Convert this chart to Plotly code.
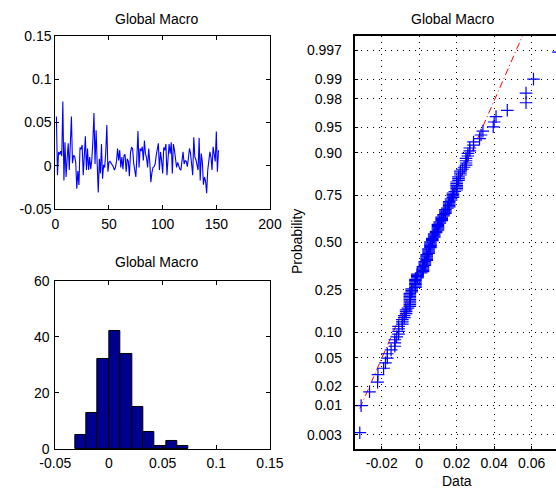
import statistics

import numpy as np
import plotly.graph_objects as go

# Monthly returns of the Global Macro index, in time order
returns = [
    0.057, -0.011, 0.016, 0.013, 0.017, 0.011, 0.0743, -0.017, 0.027, -0.013,
    0.008, 0.026, -0.005, 0.023, 0.057, 0.003, 0.012, 0.011, 0.004, -0.0265,
    -0.006, -0.0222, 0.021, 0.019, 0.024, -0.011, 0.006, 0.034, -0.005, 0.020,
    -0.005, 0.010, -0.004, 0.007, 0.029, 0.061, 0.002, 0.041, 0.003, -0.031,
    0.008, -0.009, 0.025, -0.015, 0.001, -0.002, 0.016, 0.047, -0.007, 0.004,
    0.005, 0.003, 0.002, -0.001, -0.005, -0.002, 0.005, 0.020, 0.006, 0.018,
    -0.002, 0.010, -0.004, 0.012, 0.013, -0.007, 0.008, 0.005, -0.012, 0.015,
    0.021, 0.020, 0.003, -0.008, -0.013, 0.010, 0.040, -0.002, 0.020, 0.017,
    0.022, 0.006, 0.029, 0.014, 0.009, -0.002, 0.020, 0.004, -0.019, -0.008,
    -0.002, -0.001, 0.002, 0.012, 0.022, 0.026, -0.005, 0.016, 0.006, -0.009,
    0.021, 0.018, 0.025, -0.011, 0.008, 0.025, 0.014, 0.027, -0.009, 0.025,
    0.018, 0.010, -0.002, 0.004, -0.001, -0.004, -0.005, 0.006, 0.016, 0.002,
    0.006, 0.005, -0.001, 0.009, 0.020, 0.014, 0.004, -0.011, 0.033, 0.010,
    0.007, 0.002, -0.005, 0.0322, -0.017, 0.014, 0.004, -0.022, -0.013, -0.018,
    -0.0317, -0.005, 0.007, 0.016, 0.010, -0.005, 0.022, 0.012, 0.005, 0.0395,
    -0.007, 0.018,
]

# Tick labels
ts_xticks = [0, 50, 100, 150, 200]
ts_yticks = [-0.05, 0, 0.05, 0.1, 0.15]
ts_ytext = ["-0.05", "0", "0.05", "0.1", "0.15"]
hist_xticks = [-0.05, 0, 0.05, 0.1, 0.15]
hist_xtext = ["-0.05", "0", "0.05", "0.1", "0.15"]
hist_yticks = [0, 20, 40, 60]
qq_xticks = [-0.02, 0, 0.02, 0.04, 0.06]
qq_xtext = ["-0.02", "0", "0.02", "0.04", "0.06"]
prob_ticks = [0.003, 0.01, 0.02, 0.05, 0.10, 0.25, 0.50, 0.75, 0.90, 0.95, 0.98, 0.99, 0.997]
prob_text = ["0.003", "0.01", "0.02", "0.05", "0.10", "0.25", "0.50",
             "0.75", "0.90", "0.95", "0.98", "0.99", "0.997"]

title = "Global Macro"

nd = statistics.NormalDist()
r = np.array(returns)
n = len(r)
months = np.arange(1, n + 1)

# Histogram with ten equal bins spanning the data range
counts, edges = np.histogram(r, bins=10)
centers = (edges[:-1] + edges[1:]) / 2
widths = np.diff(edges)

# Normal probability plot: sorted data against normal quantiles
xs = np.sort(r)
zs = np.array([nd.inv_cdf((i - 0.5) / n) for i in range(1, n + 1)])
q1, q3 = np.percentile(r, [25, 75], method="hazen")
z1, z3 = nd.inv_cdf(0.25), nd.inv_cdf(0.75)
slope = (z3 - z1) / (q3 - q1)
line_x = np.array([xs[0], xs[-1]])
line_z = z1 + slope * (line_x - q1)

fig = go.Figure()

fig.add_trace(go.Scatter(x=months, y=r, mode="lines",
                         line=dict(color="rgb(0,0,255)", width=1.1),
                         xaxis="x", yaxis="y", hoverinfo="skip"))

fig.add_trace(go.Bar(x=centers, y=counts, width=widths,
                     marker=dict(color="rgb(0,0,143)",
                                 line=dict(color="black", width=1)),
                     xaxis="x2", yaxis="y2"))

fig.add_trace(go.Scatter(x=line_x, y=line_z, mode="lines",
                         line=dict(color="red", width=1, dash="7px,3px,1px,3px"),
                         xaxis="x3", yaxis="y3"))
fig.add_trace(go.Scatter(x=[q1, q3], y=[z1, z3], mode="lines",
                         line=dict(color="rgb(0,150,0)", width=1),
                         xaxis="x3", yaxis="y3"))
fig.add_trace(go.Scatter(x=xs, y=zs, mode="markers",
                         marker=dict(symbol="cross-thin", size=9,
                                     line=dict(color="rgb(0,0,255)", width=1.2)),
                         xaxis="x3", yaxis="y3"))

base = dict(showline=True, linecolor="black", linewidth=1, mirror="ticks",
            ticks="inside", ticklen=4, tickcolor="black", showgrid=False,
            zeroline=False, tickfont=dict(size=14), automargin=False)

left_dom = [0.0995, 0.4856]

fig.update_layout(
    width=556, height=489,
    margin=dict(l=0, r=0, t=0, b=0, autoexpand=False),
    showlegend=False,
    plot_bgcolor="white", paper_bgcolor="white",
    font=dict(family="Liberation Sans, Arial, sans-serif", size=14, color="black"),
    bargap=0,
    xaxis=dict(base, domain=left_dom, anchor="y", range=[0, 200],
               tickvals=ts_xticks, ticklabelstandoff=2),
    yaxis=dict(base, domain=[0.5726, 0.9264], anchor="x", range=[-0.05, 0.15],
               tickvals=ts_yticks, ticktext=ts_ytext, ticklabelstandoff=0),
    xaxis2=dict(base, domain=left_dom, anchor="y2", range=[-0.05, 0.15],
                tickvals=hist_xticks, ticktext=hist_xtext, ticklabelstandoff=1),
    yaxis2=dict(base, domain=[0.0818, 0.4254], anchor="x2", range=[0, 60],
                tickvals=hist_yticks, ticklabelstandoff=2),
    xaxis3=dict(base, domain=[0.638, 1.0], anchor="y3", range=[-0.0344, 0.073],
                tickvals=qq_xticks, ticktext=qq_xtext, linewidth=2, mirror=True,
                ticklen=3, showgrid=True, gridcolor="black", gridwidth=1,
                griddash="1px,5px", ticklabelstandoff=0),
    yaxis3=dict(base, domain=[0.0818, 0.9274], anchor="x3", range=[-2.95, 2.955],
                tickvals=[nd.inv_cdf(p) for p in prob_ticks], ticktext=prob_text,
                linewidth=2, mirror=False, ticklen=3, showgrid=True,
                gridcolor="black", gridwidth=1, griddash="1px,5px",
                ticklabelstandoff=8),
    annotations=[
        dict(text=title, x=156 / 556, y=0.9611, xref="paper", yref="paper",
             showarrow=False, xanchor="center", yanchor="middle", font=dict(size=14)),
        dict(text=title, x=156 / 556, y=0.4642, xref="paper", yref="paper",
             showarrow=False, xanchor="center", yanchor="middle", font=dict(size=14)),
        dict(text=title, x=452 / 556, y=0.9611, xref="paper", yref="paper",
             showarrow=False, xanchor="center", yanchor="middle", font=dict(size=14)),
        dict(text="Probability", x=297 / 556, y=0.505, xref="paper", yref="paper",
             showarrow=False, xanchor="center", yanchor="middle", textangle=-90,
             font=dict(size=14)),
        dict(text="Data", x=457 / 556, y=0.0164, xref="paper", yref="paper",
             showarrow=False, xanchor="center", yanchor="middle", font=dict(size=14)),
    ],
)

fig.write_html("out.html")
